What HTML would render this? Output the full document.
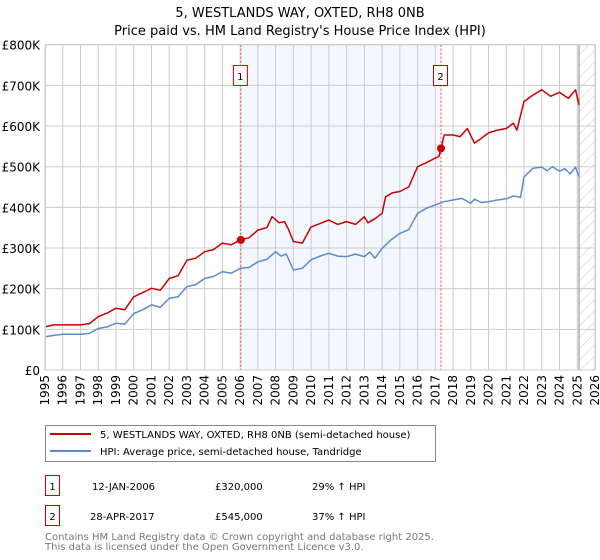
<!DOCTYPE html>
<html><head><meta charset="utf-8"><style>
body{margin:0;background:#fff}
svg{display:block;font-family:"DejaVu Sans","Liberation Sans",sans-serif}
</style></head><body>
<svg id="chart" width="600" height="560" viewBox="0 0 600 560">
<text x="300" y="17" text-anchor="middle" font-size="13">5, WESTLANDS WAY, OXTED, RH8 0NB</text>
<text x="300" y="35" text-anchor="middle" font-size="13">Price paid vs. HM Land Registry's House Price Index (HPI)</text>
<defs><pattern id="hatch" width="8" height="8" patternUnits="userSpaceOnUse" patternTransform="rotate(45)"><line x1="0" y1="0" x2="0" y2="8" stroke="#ccc" stroke-width="1"/></pattern></defs>
<g id="plot"></g>
<g>
<rect x="45.5" y="425.5" width="390" height="36" fill="#fff" stroke="#888"/>
<line x1="50" y1="434" x2="91" y2="434" stroke="#cc0000" stroke-width="2"/>
<text x="100" y="438" font-size="10">5, WESTLANDS WAY, OXTED, RH8 0NB (semi-detached house)</text>
<line x1="50" y1="451" x2="91" y2="451" stroke="#5b8bd0" stroke-width="2"/>
<text x="100" y="455" font-size="10">HPI: Average price, semi-detached house, Tandridge</text>
</g>
<g font-size="10">
<rect x="45.5" y="475.5" width="14" height="20" fill="#fff" stroke="#cc0000"/>
<text x="52.5" y="490" text-anchor="middle">1</text>
<text x="92" y="490">12-JAN-2006</text><text x="215" y="490">£320,000</text><text x="312" y="490">29% ↑ HPI</text>
<rect x="45.5" y="505.5" width="14" height="20" fill="#fff" stroke="#cc0000"/>
<text x="52.5" y="520" text-anchor="middle">2</text>
<text x="90" y="520">28-APR-2017</text><text x="215" y="520">£545,000</text><text x="312" y="520">37% ↑ HPI</text>
</g>
<text x="45" y="540" font-size="10" fill="#777">Contains HM Land Registry data © Crown copyright and database right 2025.</text>
<text x="45" y="550" font-size="10" fill="#777">This data is licensed under the Open Government Licence v3.0.</text>
</svg>
<script>
const yTicks=[0,100,200,300,400,500,600,700,800];
const yTickLabels=["£0","£100K","£200K","£300K","£400K","£500K","£600K","£700K","£800K"];
const xYears=[1995,1996,1997,1998,1999,2000,2001,2002,2003,2004,2005,2006,2007,2008,2009,2010,2011,2012,2013,2014,2015,2016,2017,2018,2019,2020,2021,2022,2023,2024,2025,2026];
const hpiT=[1995,1995.5,1996,1997,1997.5,1998,1998.5,1999,1999.5,2000,2000.5,2001,2001.5,2002,2002.5,2003,2003.5,2004,2004.5,2005,2005.5,2006,2006.5,2007,2007.5,2008,2008.3,2008.6,2009,2009.5,2010,2010.5,2011,2011.5,2012,2012.5,2013,2013.3,2013.6,2014,2014.5,2015,2015.5,2016,2016.5,2017,2017.5,2018,2018.5,2019,2019.2,2019.6,2020,2020.5,2021,2021.4,2021.8,2022,2022.5,2023,2023.3,2023.6,2024,2024.3,2024.6,2024.9,2025.1];
const hpiV=[82,85,88,88,90,102,106,115,113,139,148,160,154,176,180,205,210,225,230,242,238,250,252,266,272,291,280,285,246,250,271,280,287,280,279,285,279,290,275,299,320,336,345,385,398,406,414,418,422,410,420,412,414,418,421,428,425,475,496,499,490,500,489,495,482,499,475];
const saleT=[1995,1995.5,1996,1997,1997.5,1998,1998.5,1999,1999.5,2000,2000.5,2001,2001.5,2002,2002.5,2003,2003.5,2004,2004.5,2005,2005.5,2006,2006.5,2007,2007.5,2007.8,2008.2,2008.5,2008.7,2009,2009.5,2010,2010.5,2011,2011.5,2012,2012.5,2013,2013.2,2013.6,2014,2014.2,2014.6,2015,2015.5,2016,2016.5,2017,2017.2,2017.32,2017.5,2018,2018.4,2018.8,2019.2,2019.6,2020,2020.5,2021,2021.4,2021.6,2022,2022.5,2023,2023.5,2024,2024.5,2024.9,2025.1];
const saleV=[106,111,111,111,114,131,140,152,148,180,190,201,196,225,232,270,275,291,296,312,308,320,325,344,350,377,362,365,348,316,312,352,360,369,358,365,358,377,362,372,385,426,436,439,450,500,510,521,525,545,578,578,574,594,558,570,583,590,594,607,590,660,676,689,673,683,668,689,652];
const sales=[{t:2006.04,v:320,label:"1"},{t:2017.32,v:545,label:"2"}];
const NS="http://www.w3.org/2000/svg";
const X0=45,X1=595,Y0=370,Y1=44.7;
const xs=t=>X0+(t-1995)/(2026-1995)*(X1-X0);
const ys=v=>Y0-v/800*(Y0-Y1);
const g=document.getElementById('plot');
function mk(tag,attrs){const e=document.createElementNS(NS,tag);for(const k in attrs)e.setAttribute(k,attrs[k]);g.appendChild(e);return e;}
let e;
e=mk('rect',{x:xs(sales[0].t),y:Y1,width:xs(sales[1].t)-xs(sales[0].t),height:Y0-Y1,fill:'#eef2fc',opacity:0.7});


e=mk('rect',{x:xs(2025.1),y:Y1,width:X1-xs(2025.1),height:Y0-Y1,fill:'url(#hatch)'});


yTicks.forEach((v,i)=>{
 e=mk('line',{x1:X0,x2:X1,y1:ys(v),y2:ys(v),stroke:'#ccc','stroke-width':1});
 
 
 e=mk('text',{x:40,y:ys(v)+5,'text-anchor':'end','font-size':12});e.textContent=yTickLabels[i];
 
 
});
xYears.forEach(yr=>{
 e=mk('line',{x1:xs(yr),x2:xs(yr),y1:Y1,y2:Y0,stroke:'#ccc','stroke-width':1});
 
 
 e=mk('text',{x:0,y:0,'font-size':12,'text-anchor':'end',transform:`translate(${xs(yr)+4},375) rotate(-90)`});e.textContent=yr;
 
 
});
e=mk('line',{x1:xs(2025.1),x2:xs(2025.1),y1:Y1,y2:Y0,stroke:'#888','stroke-width':1});


sales.forEach(s=>{
 e=mk('line',{x1:xs(s.t),x2:xs(s.t),y1:Y1,y2:Y0,stroke:'#e05050','stroke-width':1,'stroke-dasharray':'2,2'});
 
 
 e=mk('rect',{x:xs(s.t)-7.5,y:65.5,width:14,height:20,fill:'#fff',stroke:'#cc0000'});
 
 
 e=mk('text',{x:xs(s.t)-0.5,y:80,'text-anchor':'middle','font-size':10});e.textContent=s.label;
 
 
});
function path(T,V,col,name){
 const d=T.map((t,i)=>(i?'L':'M')+xs(t).toFixed(1)+','+ys(V[i]).toFixed(1)).join('');
 const p=mk('path',{d:d,fill:'none',stroke:col,'stroke-width':1.5,'stroke-linejoin':'round'});
 
 
}
path(hpiT,hpiV,'#5b8bd0','hpi-line');
path(saleT,saleV,'#cc0000','property-line');
sales.forEach(s=>{
 e=mk('circle',{cx:xs(s.t),cy:ys(s.v),r:4,fill:'#cc0000'});
 
 
});
e=mk('rect',{x:X0+0.5,y:Y1,width:X1-X0,height:Y0-Y1,fill:'none',stroke:'#ccc'});


</script>
</body></html>
